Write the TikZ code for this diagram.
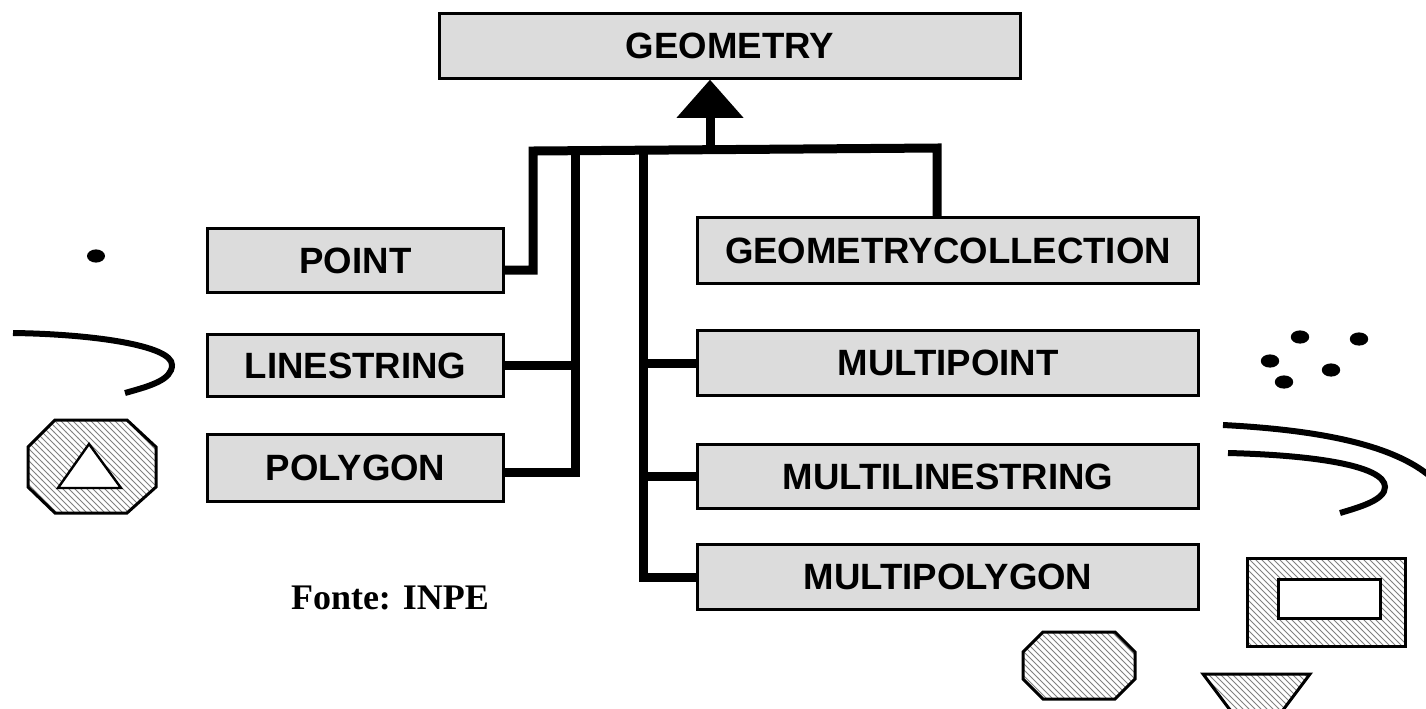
\documentclass[tikz,border=0pt]{standalone}
\usepackage{fontspec}
\setmainfont{Liberation Sans}
\newfontfamily\fonteserif{Liberation Serif}
\usetikzlibrary{arrows.meta,patterns,calc}
\definecolor{boxfill}{RGB}{220,220,220}
\begin{document}
\begin{tikzpicture}[x=0.5pt,y=-0.5pt,
  box/.style={draw, line width=1.3pt, fill=boxfill, inner sep=0pt,
    font=\bfseries\fontsize{18.3}{22}\selectfont},
  conn/.style={line width=4.5pt, line join=miter},
  hatched/.style={draw, line width=1.5pt, line join=miter,
    pattern=north west lines, pattern color=gray},
  curvestroke/.style={line width=3pt},
  dotmark/.style={fill=black}]
\useasboundingbox (0,0) rectangle (1426,708);

% class boxes
\node[box, minimum width=290.5pt, minimum height=32.5pt] (geometry) at (730,46) {GEOMETRY};
\node[box, minimum width=148pt, minimum height=32pt] (point) at (355.5,260.5) {POINT};
\node[box, minimum width=148pt, minimum height=31pt] (linestring) at (355.5,365.5) {LINESTRING};
\node[box, minimum width=148pt, minimum height=33.5pt] (polygon) at (355.5,468) {POLYGON};
\node[box, minimum width=250.5pt, minimum height=33pt] (geomcoll) at (948,250.5) {GEOMETRYCOLLECTION};
\node[box, minimum width=250.5pt, minimum height=32.5pt] (multipoint) at (948,363) {MULTIPOINT};
\node[box, minimum width=250.5pt, minimum height=32pt] (multiline) at (948,476.5) {MULTILINESTRING};
\node[box, minimum width=250.5pt, minimum height=32.5pt] (multipoly) at (948,577) {MULTIPOLYGON};

% junctions on the inheritance bus
\coordinate (busL) at (533,151);
\coordinate (busR) at (937,148);
\coordinate (busM) at (710,150);
\coordinate (j2) at (575,151);
\coordinate (j3) at (643,150);

% connectors
\draw[conn] ($(point.east)+(0,9.5)$) -| (busL) -- (busR) -- (busR |- geomcoll.north);
\draw[conn, -{Triangle[length=19pt,width=33.5pt,line width=0pt]}] (busM) -- (busM |- geometry.south);
\draw[conn] ($(polygon.east)+(0,4)$) -| (j2);
\draw[conn] (linestring.east) -- (linestring.east -| j2);
\draw[conn] (j3) |- (multipoly.west);
\draw[conn] (multipoint.west -| j3) -- (multipoint.west);
\draw[conn] (multiline.west -| j3) -- (multiline.west);

% point
\fill[dotmark] (96,256) ellipse [x radius=4.5pt, y radius=3.3pt];

% linestring
\draw[curvestroke] (13,333) .. controls (90,334) and (172,345) .. (172,365)
  .. controls (172,380) and (150,386) .. (125,393);

% polygon with a hole
\draw[hatched] (55,420) -- (127,420) -- (156,447) -- (156,487) -- (127,513)
  -- (55,513) -- (28,487) -- (28,447) -- cycle;
\draw[line width=1.2pt, fill=white, line join=miter] (89,444) -- (121,488) -- (58,488) -- cycle;

% multipoint
\foreach \px/\py in {1300/337, 1359/339, 1270/361, 1331/370, 1284/382}
  \fill[dotmark] (\px,\py) ellipse [x radius=4.6pt, y radius=3.3pt];

% multilinestring
\draw[curvestroke] (1223,425) .. controls (1320,430) and (1395,445) .. (1432,478);
\draw[curvestroke] (1228,453) .. controls (1310,455) and (1385,465) .. (1385,487)
  .. controls (1385,500) and (1360,507) .. (1340,513);

% multipolygon
\draw[hatched, even odd rule] (1247,558) rectangle (1405,646) (1278,579) rectangle (1380,618);
\draw[hatched] (1043,632) -- (1115,632) -- (1135,652) -- (1135,679) -- (1115,699)
  -- (1043,699) -- (1023,679) -- (1023,652) -- cycle;
\draw[hatched] (1203,674) -- (1310,674) -- (1280,714) -- (1233,714) -- cycle;

% source
\node[anchor=base, font=\fonteserif\bfseries\fontsize{18}{22}\selectfont] (fonte) at (390,609) {Fonte: INPE};
\end{tikzpicture}
\end{document}
